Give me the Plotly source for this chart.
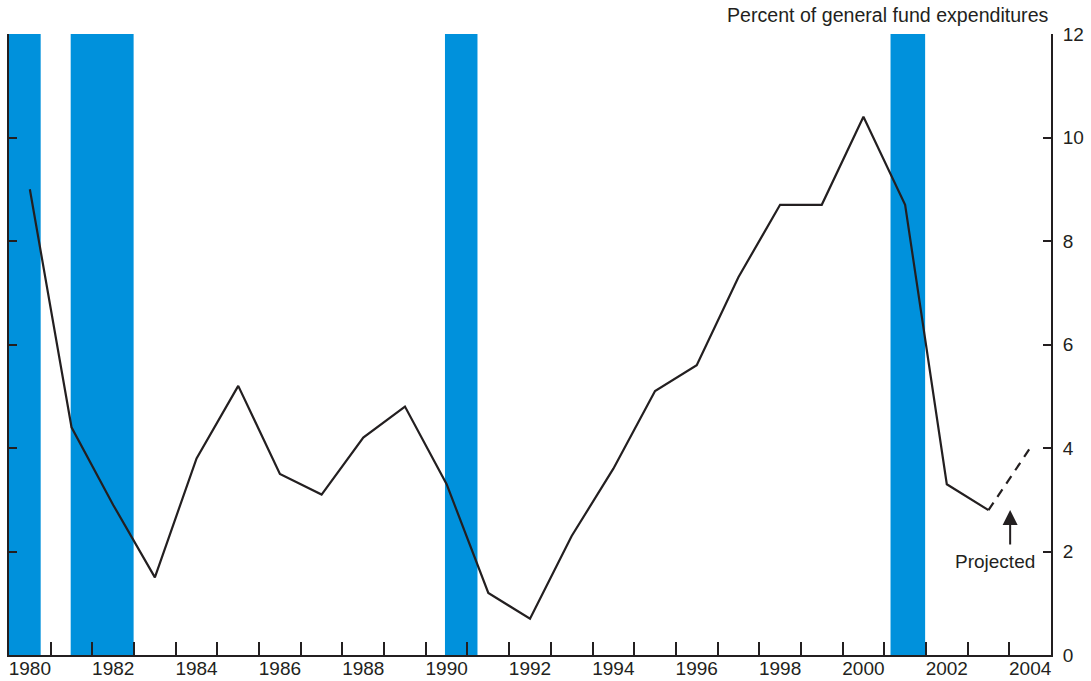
import plotly.graph_objects as go

# ---- data ----
years = list(range(1980, 2004))
share = [9.0, 4.4, 2.9, 1.5, 3.8, 5.2, 3.5, 3.1, 4.2, 4.8, 3.3, 1.2,
         0.7, 2.3, 3.6, 5.1, 5.6, 7.3, 8.7, 8.7, 10.4, 8.7, 3.3, 2.8]
proj_years = [2003, 2004]
proj_share = [2.8, 4.0]
rec_start = [1979.5, 1980.98, 1989.96, 2000.65]
rec_end = [1980.26, 1982.49, 1990.74, 2001.48]
label_years = list(range(1980, 2005, 2))
boundary_ticks = [y + 0.5 for y in range(1980, 2004)]
y_ticks = [0, 2, 4, 6, 8, 10, 12]

INK = "#231f20"
BLUE = "#0091dc"
FONT = "Liberation Sans, Arial, Helvetica, sans-serif"
FS = 19

fig = go.Figure()

fig.add_trace(go.Scatter(x=years, y=share, mode="lines",
                         line=dict(color=INK, width=2.2),
                         showlegend=False, hoverinfo="x+y"))
fig.add_trace(go.Scatter(x=proj_years, y=proj_share, mode="lines",
                         line=dict(color=INK, width=2.2, dash="9px,7px"),
                         showlegend=False, hoverinfo="x+y"))
# invisible trace to carry the label axis
fig.add_trace(go.Scatter(x=label_years, y=[None] * len(label_years), xaxis="x2",
                         mode="markers", showlegend=False, hoverinfo="skip"))

for s, e in zip(rec_start, rec_end):
    fig.add_shape(type="rect", xref="x", yref="y", x0=s, x1=e, y0=0, y1=12,
                  fillcolor=BLUE, line=dict(width=0), layer="below")

fig.update_layout(
    width=1091, height=681,
    margin=dict(l=9, r=40, t=34, b=26, autoexpand=False),
    paper_bgcolor="white", plot_bgcolor="white",
    font=dict(family=FONT, color=INK, size=FS),
    xaxis=dict(range=[1979.5, 2004.5], tickmode="array", tickvals=boundary_ticks,
               showticklabels=False, ticks="inside", ticklen=13, tickwidth=2,
               tickcolor=INK, showline=True, linecolor=INK, linewidth=2,
               showgrid=False, zeroline=False, fixedrange=True),
    xaxis2=dict(range=[1979.5, 2004.5], overlaying="x", anchor="y", side="bottom",
                tickmode="array", tickvals=label_years,
                ticktext=[str(y) for y in label_years], ticks="",
                showline=False, showgrid=False, zeroline=False,
                tickfont=dict(size=FS, color=INK, family=FONT)),
    yaxis=dict(range=[0, 12], side="right", tickmode="array", tickvals=y_ticks,
               ticks="inside", ticklen=8, tickwidth=2, tickcolor=INK,
               showline=True, linecolor=INK, linewidth=2, mirror="ticks",
               showgrid=False, zeroline=False, ticklabelstandoff=6,
               tickfont=dict(size=FS, color=INK, family=FONT)),
    annotations=[
        dict(text="Percent of general fund expenditures", xref="paper", yref="paper",
             x=1, y=1.0306, xanchor="right", yanchor="middle", xshift=0,
             showarrow=False, font=dict(size=19.6, color=INK, family=FONT)),
        dict(text="", x=2003.52, y=2.8, xref="x", yref="y", showarrow=True,
             arrowhead=2, arrowsize=1.5, arrowwidth=2, arrowcolor=INK,
             ax=0, ay=36),
        dict(text="Projected", x=2003.1, y=1.8, xref="x", yref="y",
             showarrow=False, xanchor="center", yanchor="middle", yshift=0,
             xshift=2, font=dict(size=FS, color=INK, family=FONT)),
    ],
)

fig.write_html("out.html", config={"displayModeBar": False},
               post_script="document.body.style.margin='0';document.body.style.overflow='hidden';")
